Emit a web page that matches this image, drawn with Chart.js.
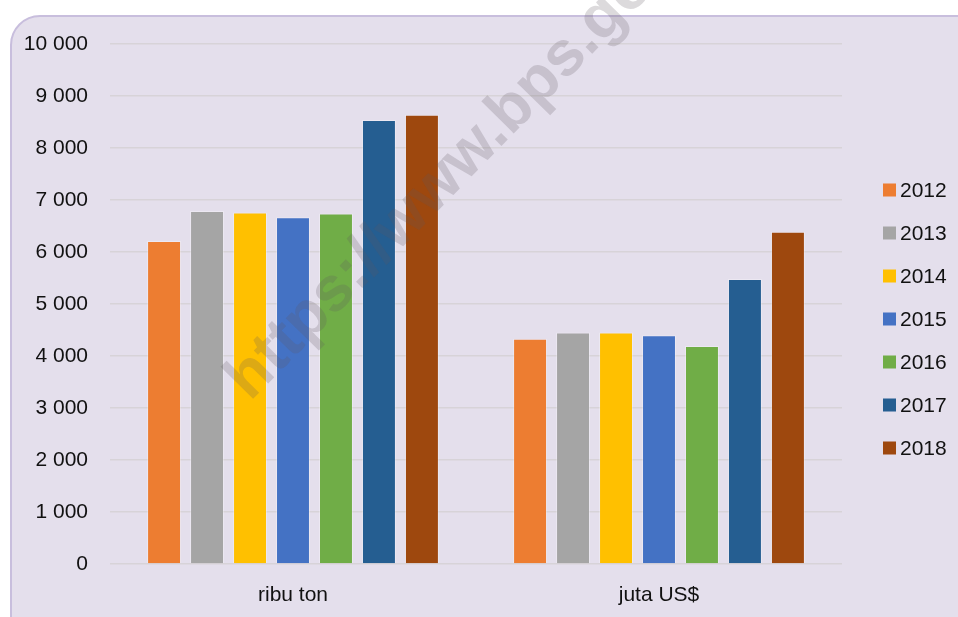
<!DOCTYPE html>
<html><head><meta charset="utf-8">
<script src="https://cdn.jsdelivr.net/npm/chart.js@4.4.1/dist/chart.umd.min.js"></script>
<style>
html,body{margin:0;padding:0;background:#fff;width:958px;height:617px;overflow:hidden;}
#panel{position:absolute;left:10px;top:15px;width:990px;height:650px;background:#E4DFEC;border:2px solid #C8BEDD;border-radius:30px;box-sizing:border-box;}
#wrap{position:absolute;left:0;top:0;width:958px;height:617px;}
</style></head><body>
<div id="panel"></div>
<div id="wrap"><canvas id="c" width="958" height="617"></canvas></div>
<script>
// ---- data ----
const categories = ['ribu ton', 'juta US$'];
const years = ['2012', '2013', '2014', '2015', '2016', '2017', '2018'];
const v2012 = [6210, 4330];
const v2013 = [6790, 4450];
const v2014 = [6760, 4450];
const v2015 = [6670, 4400];
const v2016 = [6740, 4190];
const v2017 = [8540, 5480];
const v2018 = [8640, 6390];
const yTicks = [0, 1000, 2000, 3000, 4000, 5000, 6000, 7000, 8000, 9000, 10000];
const watermarkText = 'https://www.bps.go.id';

const seriesValues = [v2012, v2013, v2014, v2015, v2016, v2017, v2018];
const colors = ['#ED7D31', '#A5A5A5', '#FFC000', '#4472C4', '#70AD47', '#255E91', '#9E480E'];
const FONT = "'Liberation Sans Narrow','Arial Narrow','Liberation Sans',Arial,sans-serif";
const FS = 21;

function fmt(v) { return String(v).replace(/\B(?=(\d{3})+(?!\d))/g, ' '); }

const legendPlugin = {
  id: 'customLegend',
  afterDraw(chart) {
    const ctx = chart.ctx;
    ctx.save();
    ctx.font = FS + 'px ' + FONT;
    ctx.textBaseline = 'middle';
    ctx.textAlign = 'left';
    chart.data.datasets.forEach((ds, i) => {
      const y = 190 + i * 43;
      ctx.fillStyle = ds.backgroundColor;
      ctx.fillRect(883, y - 6.5, 13, 13);
      ctx.fillStyle = '#111';
      ctx.fillText(ds.label, 900, y + 1);
    });
    ctx.restore();
  }
};

const watermarkPlugin = {
  id: 'watermark',
  afterDatasetsDraw(chart) {
    const ctx = chart.ctx;
    ctx.save();
    ctx.translate(250, 402);
    ctx.rotate(-45.5 * Math.PI / 180);
    ctx.font = 'bold 63px "Liberation Sans", Arial, sans-serif';
    ctx.fillStyle = 'rgba(95,85,95,0.22)';
    ctx.textBaseline = 'alphabetic';
    ctx.fillText(watermarkText, 0, 0);
    ctx.restore();
  }
};

new Chart(document.getElementById('c'), {
  type: 'bar',
  data: {
    labels: categories,
    datasets: years.map((y, i) => ({
      label: y,
      data: seriesValues[i],
      backgroundColor: colors[i],
      borderColor: 'rgba(255,255,255,0.3)',
      borderWidth: 1,
      categoryPercentage: 0.822,
      barPercentage: 0.79
    }))
  },
  options: {
    responsive: false,
    animation: false,
    devicePixelRatio: 1,
    layout: { padding: { left: 0, right: 116, top: 44, bottom: 0 } },
    plugins: { legend: { display: false }, tooltip: { enabled: false } },
    scales: {
      x: {
        grid: { display: false },
        border: { display: false },
        ticks: { font: { family: FONT, size: FS }, color: '#111', padding: 11 },
        afterFit(s) { s.height = 53; }
      },
      y: {
        min: 0, max: 10000,
        afterBuildTicks(s) { s.ticks = yTicks.map(v => ({ value: v })); },
        grid: { color: '#D7D3D8', lineWidth: 1.5, drawTicks: false },
        border: { display: false },
        ticks: { font: { family: FONT, size: FS }, color: '#111', padding: 22, callback: v => fmt(v) },
        afterFit(s) { s.width = 110; }
      }
    }
  },
  plugins: [legendPlugin, watermarkPlugin]
});
</script>
</body></html>
